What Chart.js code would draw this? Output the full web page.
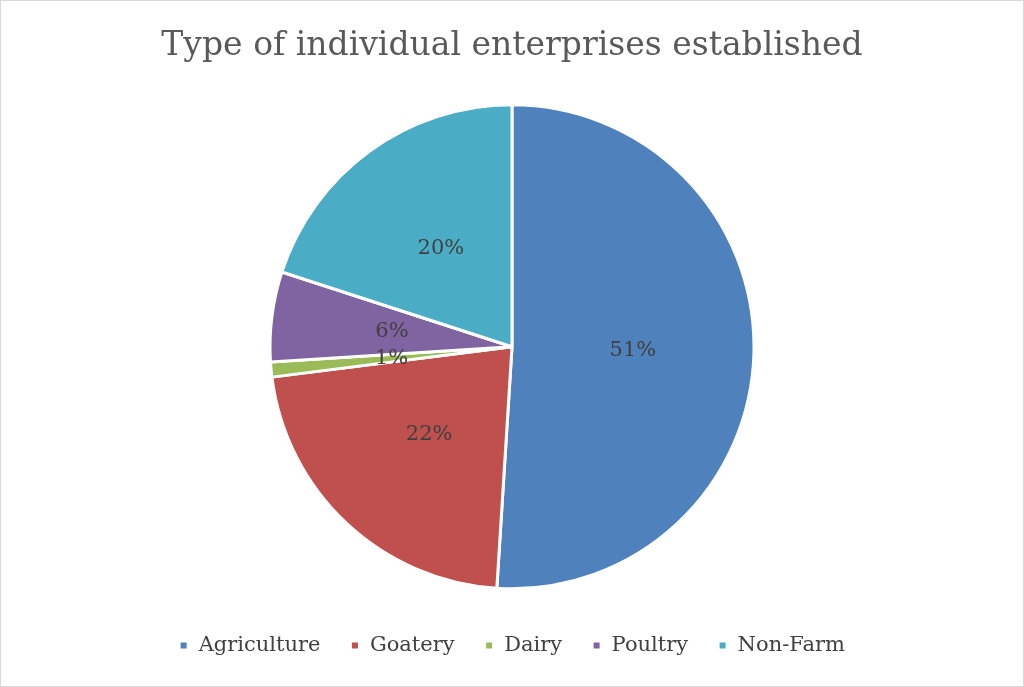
<!DOCTYPE html>
<html><head><meta charset="utf-8">
<script src="https://cdn.jsdelivr.net/npm/chart.js@4"></script>
<style>html,body{margin:0;padding:0;background:#fff}#w{width:1022px;height:685px;border:1px solid #d9d9d9}</style>
</head><body><div id="w"><canvas id="c"></canvas></div>
<script>
const categories=["Agriculture","Goatery","Dairy","Poultry","Non-Farm"];
const values=[51,22,1,6,20];
const colors=["#4f81bd","#c0504d","#9bbb59","#8064a2","#4bacc6"];
const labelPlugin={id:'lbl',afterDatasetsDraw(ch){const ctx=ch.ctx;const m=ch.getDatasetMeta(0);ctx.save();ctx.font='21px "DejaVu Serif"';ctx.fillStyle='#404040';ctx.textAlign='center';ctx.textBaseline='middle';
m.data.forEach((a,i)=>{const ang=(a.startAngle+a.endAngle)/2;const r=a.outerRadius*0.5;ctx.fillText(values[i]+'%',a.x+Math.cos(ang)*r,a.y+Math.sin(ang)*r);});ctx.restore();}};
new Chart(document.getElementById('c'),{type:'pie',data:{labels:categories,datasets:[{data:values,backgroundColor:colors,borderColor:'#fff',borderWidth:3,radius:242}]},
options:{responsive:true,maintainAspectRatio:false,animation:false,layout:{padding:{top:0,bottom:20}},
plugins:{tooltip:{enabled:false},title:{display:true,text:'Type of individual enterprises established',color:'#595959',font:{family:'DejaVu Serif',size:33,weight:'normal'},padding:{top:26,bottom:22}},
legend:{position:'bottom',labels:{color:'#404040',font:{family:'DejaVu Serif',size:21},usePointStyle:true,pointStyle:'rect',boxWidth:9,boxHeight:9,padding:30}}}},plugins:[labelPlugin]});
</script></body></html>
